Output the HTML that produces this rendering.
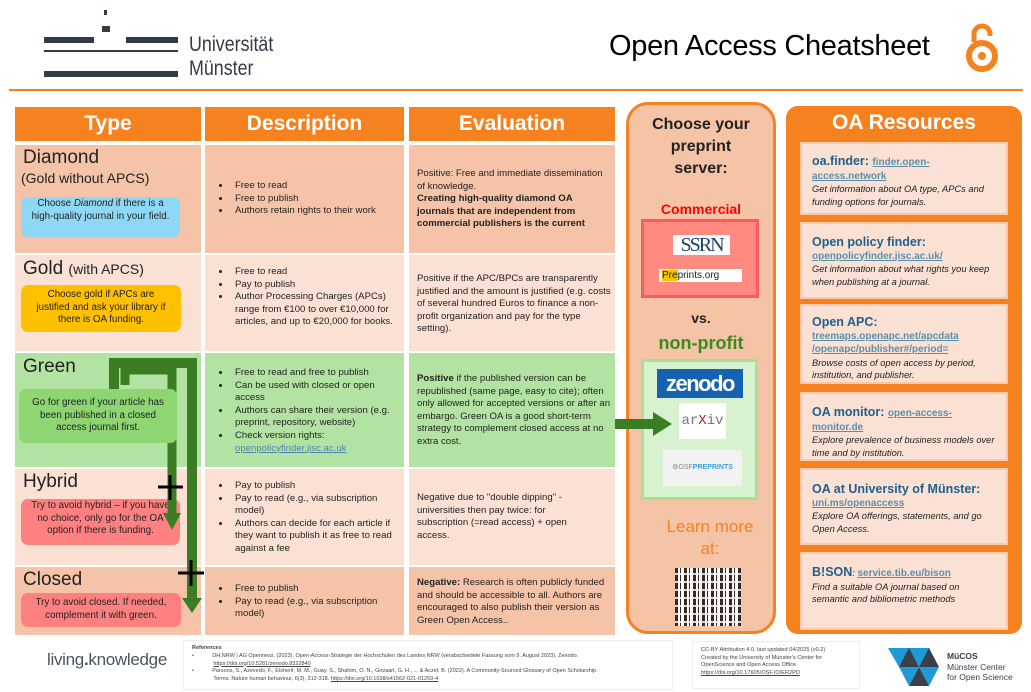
<!DOCTYPE html>
<html><head><meta charset="utf-8"><style>
*{margin:0;padding:0;box-sizing:border-box}
body{width:1031px;height:692px;background:#fff;font-family:"Liberation Sans",sans-serif;position:relative;overflow:hidden;color:#222}
.a{position:absolute}
.hd{background:#f5821f;color:#fff;font-weight:bold;font-size:21px;text-align:center;line-height:34px}
.cell{position:absolute;font-size:9.6px;line-height:12.6px}
.cell ul{padding-left:26px}
.cell li{padding-left:4px}
.tt{font-size:19px;position:absolute;left:9px}
.note{position:absolute;border-radius:7px;font-size:9.8px;line-height:12.6px;text-align:center;padding:3px 10px}
.card{position:absolute;left:800px;width:208px;background:#fbe1d4;border:2px solid #f8c9ae;padding:11px 10px 0 10px;font-size:9.3px;line-height:12.5px;font-style:italic;color:#222}
.card b{font-style:normal;color:#1f5f8a;font-size:12.5px}
.card u{font-style:normal;color:#5a8fab;font-weight:bold;font-size:10px}
a{color:#4b86a8}
</style></head><body>
<!-- header -->
<div class="a" style="left:104px;top:10px;width:3px;height:5px;background:#333c45"></div>
<div class="a" style="left:102px;top:26px;width:8px;height:6px;background:#333c45"></div>
<div class="a" style="left:44px;top:37px;width:50px;height:6px;background:#333c45"></div>
<div class="a" style="left:126px;top:37px;width:52px;height:6px;background:#333c45"></div>
<div class="a" style="left:44px;top:50px;width:134px;height:2px;background:#333c45"></div>
<div class="a" style="left:44px;top:71px;width:134px;height:6px;background:#333c45"></div>
<div class="a" style="left:189px;top:33px;font-size:21px;color:#333c45;line-height:24px;transform:scaleX(.85);transform-origin:left">Universität<br>Münster</div>
<div class="a" style="left:609px;top:30px;font-size:29px;color:#000;letter-spacing:-.3px">Open Access Cheatsheet</div>
<svg class="a" style="left:962px;top:20px" width="40" height="56"><path d="M12 22 V14 a8 8 0 0 1 16 0 V16" fill="none" stroke="#f5821f" stroke-width="5"/><circle cx="20" cy="36" r="13" fill="none" stroke="#f5821f" stroke-width="6"/><circle cx="20" cy="36" r="4" fill="#f5821f"/></svg>
<div class="a" style="left:9px;top:89px;width:1014px;height:2px;background:#f5821f"></div>

<!-- table headers -->
<div class="a hd" style="left:15px;top:107px;width:186px">Type</div>
<div class="a hd" style="left:205px;top:107px;width:199px">Description</div>
<div class="a hd" style="left:409px;top:107px;width:206px">Evaluation</div>

<!-- rows backgrounds -->
<div class="a" style="left:15px;top:145px;width:186px;height:108px;background:#f5c4a8"></div>
<div class="a" style="left:205px;top:145px;width:199px;height:108px;background:#f5c4a8"></div>
<div class="a" style="left:409px;top:145px;width:206px;height:108px;background:#f5c4a8"></div>
<div class="a" style="left:15px;top:255px;width:186px;height:96px;background:#fbe1d4"></div>
<div class="a" style="left:205px;top:255px;width:199px;height:96px;background:#fbe1d4"></div>
<div class="a" style="left:409px;top:255px;width:206px;height:96px;background:#fbe1d4"></div>
<div class="a" style="left:15px;top:353px;width:186px;height:114px;background:#b3e3a2"></div>
<div class="a" style="left:205px;top:353px;width:199px;height:114px;background:#b3e3a2"></div>
<div class="a" style="left:409px;top:353px;width:206px;height:114px;background:#b3e3a2"></div>
<div class="a" style="left:15px;top:469px;width:186px;height:96px;background:#fbe1d4"></div>
<div class="a" style="left:205px;top:469px;width:199px;height:96px;background:#fbe1d4"></div>
<div class="a" style="left:409px;top:469px;width:206px;height:96px;background:#fbe1d4"></div>
<div class="a" style="left:15px;top:567px;width:186px;height:68px;background:#f5c4a8"></div>
<div class="a" style="left:205px;top:567px;width:199px;height:68px;background:#f5c4a8"></div>
<div class="a" style="left:409px;top:567px;width:206px;height:68px;background:#f5c4a8"></div>

<!-- type cells -->
<div class="tt" style="left:23px;top:147px">Diamond</div>
<div class="a" style="left:21px;top:170px;font-size:14px">(Gold without APCS)</div>
<div class="note" style="left:21px;top:197px;width:159px;height:40px;background:#8fd8f5;padding-top:1px">Choose <i>Diamond</i> if there is a high-quality journal in your field.</div>
<div class="tt" style="left:23px;top:258px">Gold <span style="font-size:14px">(with APCS)</span></div>
<div class="note" style="left:21px;top:285px;width:160px;height:47px;background:#ffc000;padding-top:4px">Choose gold if APCs are justified and ask your library if there is OA funding.</div>
<div class="tt" style="left:23px;top:356px">Green</div>
<div class="tt" style="left:23px;top:471px">Hybrid</div>
<div class="note" style="left:21px;top:499px;width:159px;height:46px;background:#ff8080;padding:1px 6px">Try to avoid hybrid – if you have no choice, only go for the OA option if there is funding.</div>
<div class="tt" style="left:23px;top:569px">Closed</div>
<div class="note" style="left:21px;top:593px;width:160px;height:34px;background:#ff8080;padding-top:4px">Try to avoid closed. If needed, complement it with green.</div>

<!-- arrows -->
<svg class="a" style="left:0;top:0" width="1031" height="692">
<g fill="none" stroke="#3b7d22" stroke-width="10">
<polyline points="114,395 114,363 192,363 192,600"/>
<polyline points="125,385 125,370 172,370 172,515" stroke-width="9"/>
</g>
<polygon points="182,598 202,598 192,613" fill="#3b7d22"/>
<polygon points="163,513 181,513 172,530" fill="#3b7d22"/>
<g stroke="#000" stroke-width="3"><line x1="158" y1="487" x2="183" y2="487"/><line x1="170" y1="475" x2="170" y2="500"/>
<line x1="178" y1="573" x2="204" y2="573"/><line x1="191" y1="560" x2="191" y2="586"/></g>
</svg>
<div class="note" style="left:19px;top:389px;width:158px;height:54px;background:#8dd672;padding-top:8px">Go for green if your article has been published in a closed access journal first.</div>

<!-- description -->
<div class="cell" style="left:205px;top:180px;width:199px"><ul><li>Free to read</li><li>Free to publish</li><li>Authors retain rights to their work</li></ul></div>
<div class="cell" style="left:205px;top:266px;width:192px"><ul><li>Free to read</li><li>Pay to publish</li><li>Author Processing Charges (APCs) range from €100 to over €10,000 for articles, and up to €20,000 for books.</li></ul></div>
<div class="cell" style="left:205px;top:367px;width:192px"><ul><li>Free to read and free to publish</li><li>Can be used with closed or open access</li><li>Authors can share their version (e.g. preprint, repository, website)</li><li>Check version rights: <a href="#">openpolicyfinder.jisc.ac.uk</a></li></ul></div>
<div class="cell" style="left:205px;top:480px;width:192px"><ul><li>Pay to publish</li><li>Pay to read (e.g., via subscription model)</li><li>Authors can decide for each article if they want to publish it as free to read against a fee</li></ul></div>
<div class="cell" style="left:205px;top:583px;width:192px"><ul><li>Free to publish</li><li>Pay to read (e.g., via subscription model)</li></ul></div>

<!-- evaluation -->
<div class="cell" style="left:417px;top:168px;width:186px">Positive: Free and immediate dissemination of knowledge.<br><b>Creating high-quality diamond OA journals that are independent from commercial publishers is the current</b></div>
<div class="cell" style="left:417px;top:273px;width:194px">Positive if the APC/BPCs are transparently justified and the amount is justified (e.g. costs of several hundred Euros to finance a non-profit organization and pay for the type setting).</div>
<div class="cell" style="left:417px;top:373px;width:194px"><b>Positive</b> if the published version can be republished (same page, easy to cite); often only allowed for accepted versions or after an embargo. Green OA is a good short-term strategy to complement closed access at no extra cost.</div>
<div class="cell" style="left:417px;top:492px;width:170px">Negative due to "double dipping" - universities then pay twice: for subscription (=read access) + open access.</div>
<div class="cell" style="left:417px;top:577px;width:194px"><b>Negative:</b> Research is often publicly funded and should be accessible to all. Authors are encouraged to also publish their version as Green Open Access..</div>

<!-- preprint column -->
<div class="a" style="left:626px;top:102px;width:150px;height:532px;border:3px solid #f5821f;border-radius:22px;background:#f5c4a6"></div>
<div class="a" style="left:626px;top:114px;width:150px;text-align:center;font-weight:bold;font-size:16px;line-height:22px">Choose your<br>preprint<br>server:</div>
<div class="a" style="left:626px;top:201px;width:150px;text-align:center;font-weight:bold;font-size:14px;color:#f00">Commercial</div>
<div class="a" style="left:641px;top:219px;width:118px;height:79px;background:#ff8a80;border:3px solid #ff5a5a"></div>
<div class="a" style="left:673px;top:235px;width:57px;height:20px;background:#fff;color:#1b3f73;font-family:'Liberation Serif',serif;font-size:20px;line-height:20px;text-align:center;letter-spacing:-2px">SSRN</div>
<div class="a" style="left:659px;top:269px;width:83px;height:13px;background:#fff;font-size:10px;line-height:13px;padding-left:3px"><span style="background:#f5c400">Pre</span>prints.org</div>
<div class="a" style="left:626px;top:310px;width:150px;text-align:center;font-weight:bold;font-size:14px">vs.</div>
<div class="a" style="left:626px;top:333px;width:150px;text-align:center;font-weight:bold;font-size:18px;color:#3b8a1f">non-profit</div>
<div class="a" style="left:641px;top:359px;width:117px;height:141px;background:#d8f2cf;border:3px solid #a8e096"></div>
<div class="a" style="left:657px;top:369px;width:86px;height:29px;background:#1563b0;color:#fff;font-weight:bold;font-size:22px;line-height:29px;text-align:center;letter-spacing:-1.5px">zenodo</div>
<div class="a" style="left:679px;top:403px;width:47px;height:36px;background:#fff;color:#777;font-family:'Liberation Mono',monospace;font-size:14px;line-height:36px;text-align:center">ar<span style="color:#b31b1b">X</span>iv</div>
<div class="a" style="left:663px;top:450px;width:79px;height:36px;background:#f2f2f2;font-size:7px;line-height:36px;text-align:center;color:#888">⚙OSF<b style="color:#3aa2d8">PREPRINTS</b></div>
<svg class="a" style="left:610px;top:408px" width="70" height="32"><line x1="5" y1="16" x2="45" y2="16" stroke="#3b7d22" stroke-width="10"/><polygon points="43,4 43,28 62,16" fill="#3b7d22"/></svg>
<div class="a" style="left:640px;top:516px;width:140px;text-align:center;font-size:17px;line-height:22px;color:#f5821f">Learn more<br>at:</div>
<div class="a" style="left:675px;top:568px;width:66px;height:58px;background:repeating-linear-gradient(90deg,#111 0 3px,#fff 3px 5px,#111 5px 6px,#fff 6px 9px),#fff;opacity:.85"></div>
<div class="a" style="left:675px;top:568px;width:66px;height:58px;background:repeating-linear-gradient(0deg,transparent 0 3px,rgba(255,255,255,.8) 3px 5px,transparent 5px 8px)"></div>

<!-- OA resources -->
<div class="a" style="left:786px;top:106px;width:236px;height:528px;background:#f5821f;border-radius:12px"></div>
<div class="a" style="left:786px;top:111px;width:236px;text-align:center;color:#fff;font-weight:bold;font-size:21px">OA Resources</div>
<div class="card" style="top:142px;height:73px"><b>oa.finder: </b><u>finder.open-access.network</u><br>Get information about OA type, APCs and funding options for journals.</div>
<div class="card" style="top:222px;height:77px;padding-top:12px"><b>Open policy finder:</b><br><u>openpolicyfinder.jisc.ac.uk/</u><br>Get information about what rights you keep when publishing at a journal.</div>
<div class="card" style="top:304px;height:80px;padding-top:10px"><b>Open APC:</b><br><u>treemaps.openapc.net/apcdata<br>/openapc/publisher#/period=</u><br>Browse costs of open access by period, institution, and publisher.</div>
<div class="card" style="top:392px;height:69px;padding-top:12px"><b>OA monitor: </b><u>open-access-monitor.de</u><br>Explore prevalence of business models over time and by institution.</div>
<div class="card" style="top:468px;height:77px;padding-top:13px"><b>OA at University of Münster:</b><br><u>uni.ms/openaccess</u><br>Explore OA offerings, statements, and go Open Access.</div>
<div class="card" style="top:552px;height:78px;padding-top:12px"><b>B!SON</b>: <u>service.tib.eu/bison</u><br>Find a suitable OA journal based on semantic and bibliometric methods</div>

<!-- footer -->
<div class="a" style="left:47px;top:650px;font-size:17px;color:#4a5560;letter-spacing:-.3px">living<b>.</b>knowledge</div>
<div class="a" style="left:183px;top:640px;width:490px;height:50px;border:1px solid #eee;font-size:5.5px;line-height:7.8px;padding:4px 8px;color:#444"><b>References</b><br>•&nbsp;&nbsp;&nbsp;&nbsp;&nbsp;&nbsp;&nbsp;&nbsp;&nbsp;&nbsp;&nbsp;&nbsp;DH.NRW | AG Openness. (2023). Open-Access-Strategie der Hochschulen des Landes NRW (verabschiedete Fassung vom 9. August 2023). Zenodo.<br>&nbsp;&nbsp;&nbsp;&nbsp;&nbsp;&nbsp;&nbsp;&nbsp;&nbsp;&nbsp;&nbsp;&nbsp;&nbsp;&nbsp;<u>https://doi.org/10.5281/zenodo.8322840</u><br>•&nbsp;&nbsp;&nbsp;&nbsp;&nbsp;&nbsp;&nbsp;&nbsp;&nbsp;&nbsp;&nbsp;&nbsp;Parsons, S., Azevedo, F., Elsherif, M. M., Guay, S., Shahim, O. N., Govaart, G. H., ... & Aczel, B. (2022). A Community-Sourced Glossary of Open Scholarship<br>&nbsp;&nbsp;&nbsp;&nbsp;&nbsp;&nbsp;&nbsp;&nbsp;&nbsp;&nbsp;&nbsp;&nbsp;&nbsp;&nbsp;Terms. Nature human behaviour, 6(3), 312-318. <u>https://doi.org/10.1038/s41562-021-01259-4</u></div>
<div class="a" style="left:692px;top:641px;width:168px;height:48px;border:1px solid #eee;font-size:5.6px;line-height:7.6px;padding:5px 8px;color:#444">CC-BY Attribution 4.0, last updated 04/2025 (v0.2)<br>Created by the University of Münster's Center for OpenScience and Open Access Office<br><u>https://doi.org/10.17605/OSF.IO/ER2PD</u></div>
<svg class="a" style="left:888px;top:648px" width="62" height="38"><polygon points="0,0 22,0 11,19" fill="#1e9ad6"/><polygon points="20,0 42,0 31,19" fill="#1e9ad6"/><polygon points="11,19 31,19 21,0" fill="#3a3f4a"/><polygon points="11,19 31,19 21,38" fill="#1e9ad6"/><polygon points="31,19 51,19 41,38" fill="#1e9ad6"/><polygon points="31,19 41,0 51,19" fill="#3a3f4a"/><polygon points="21,38 41,38 31,19" fill="#3a3f4a"/></svg>
<div class="a" style="left:947px;top:651px;font-size:8.5px;line-height:10.5px;color:#3a3f4a"><b>MüCOS</b><br>Münster Center<br>for Open Science</div>
</body></html>
